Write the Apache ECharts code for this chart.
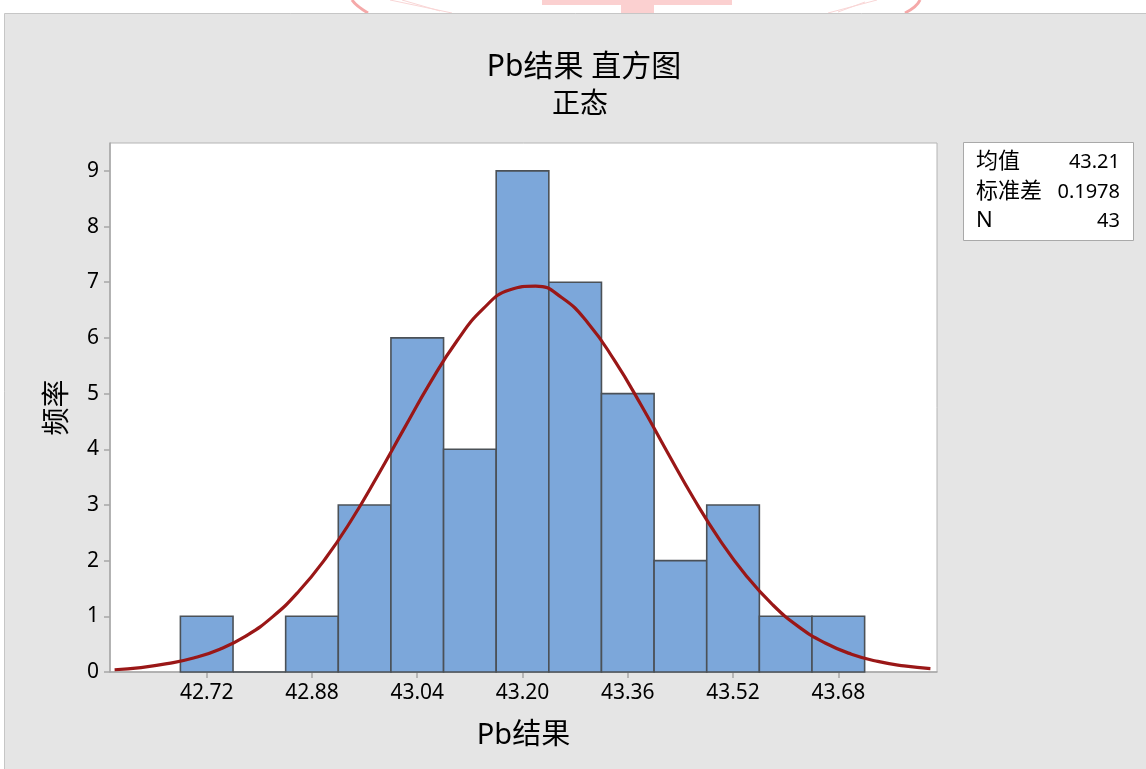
<!DOCTYPE html>
<html>
<head>
<meta charset="utf-8">
<script src="https://cdn.jsdelivr.net/npm/echarts@6/dist/echarts.min.js"></script>
<style>
html,body{margin:0;padding:0;background:#fff;}
#c{width:1146px;height:769px;}
</style>
</head>
<body>
<div id="c"></div>
<script>
// Histogram bins (edges) and counts
var binEdges = [42.68, 42.76, 42.84, 42.92, 43.00, 43.08, 43.16, 43.24, 43.32, 43.40, 43.48, 43.56, 43.64, 43.72];
var counts   = [1, 0, 1, 3, 6, 4, 9, 7, 5, 2, 3, 1, 1];
// Fitted normal curve points
var curveX = [42.58,42.62,42.66,42.70,42.74,42.78,42.82,42.86,42.90,42.94,42.98,43.02,43.06,43.10,43.14,43.18,43.22,43.26,43.30,43.34,43.38,43.42,43.46,43.50,43.54,43.58,43.62,43.66,43.70,43.74,43.78,43.82];
var curveY = [0.04,0.08,0.15,0.25,0.41,0.65,0.99,1.45,2.03,2.73,3.53,4.37,5.20,5.94,6.52,6.86,6.93,6.72,6.26,5.59,4.80,3.95,3.12,2.37,1.73,1.21,0.81,0.52,0.32,0.19,0.11,0.06];
var xTicks = [42.72, 42.88, 43.04, 43.20, 43.36, 43.52, 43.68];
var yTicks = [0,1,2,3,4,5,6,7,8,9];
var titleText = 'Pb结果 直方图';
var subtitleText = '正态';
var xName = 'Pb结果';
var yName = '频率';
var statLabels = ['均值', '标准差', 'N'];
var statValues = ['43.21', '0.1978', '43'];

var FONT = '"Segoe UI","Noto Sans","Noto Sans CJK SC",sans-serif';

var histData = [];
for (var i = 0; i < counts.length; i++) histData.push([binEdges[i], binEdges[i+1], counts[i]]);
var curveData = curveX.map(function(x, i){ return [x, curveY[i]]; });

var chart = echarts.init(document.getElementById('c'), null, {renderer:'canvas'});

var graphics = [
  // watermark fragments (faint pink, top edge)
  {type:'rect', shape:{x:542,y:0,width:190,height:5}, style:{fill:'#fbd0d0'}, z:-20},
  {type:'rect', shape:{x:621,y:5,width:33,height:9}, style:{fill:'#fbd0d0'}, z:-20},
  {type:'bezierCurve', shape:{x1:352,y1:0,x2:368,y2:13,cpx1:356,cpy1:6}, style:{stroke:'#f5a9a9',lineWidth:3,fill:null}, z:-20},
  {type:'bezierCurve', shape:{x1:920,y1:0,x2:905,y2:13,cpx1:917,cpy1:7}, style:{stroke:'#f5a9a9',lineWidth:3,fill:null}, z:-20},
  {type:'line', shape:{x1:390,y1:0,x2:452,y2:13}, style:{stroke:'#f9d6d6',lineWidth:1}, z:-20},
  {type:'line', shape:{x1:402,y1:0,x2:440,y2:11}, style:{stroke:'#f9d6d6',lineWidth:1}, z:-20},
  {type:'line', shape:{x1:877,y1:0,x2:828,y2:13}, style:{stroke:'#f9d6d6',lineWidth:1}, z:-20},
  {type:'line', shape:{x1:865,y1:2,x2:838,y2:12}, style:{stroke:'#f9d6d6',lineWidth:1}, z:-20},
  // grey panel
  {type:'rect', shape:{x:4.5,y:13.5,width:1150,height:770}, style:{fill:'#e5e5e5', stroke:'#c6c6c6', lineWidth:1}, z:-10},
  // titles
  {type:'text', x:584, y:67, style:{text:titleText, font:'30px '+FONT, fill:'#000', textAlign:'center', textVerticalAlign:'middle'}},
  {type:'text', x:580, y:105, style:{text:subtitleText, font:'28px '+FONT, fill:'#000', textAlign:'center', textVerticalAlign:'middle'}},
  // stats box
  {type:'rect', shape:{x:963.5,y:142.5,width:170,height:98}, style:{fill:'#fff', stroke:'#a9a9a9', lineWidth:1}}
];
var rowsY = [162, 192, 221];
for (var r = 0; r < statLabels.length; r++) {
  graphics.push({type:'text', x:976, y:rowsY[r], style:{text:statLabels[r], font:'22px '+FONT, fill:'#000', textAlign:'left', textVerticalAlign:'middle'}});
  graphics.push({type:'text', x:1120, y:rowsY[r], style:{text:statValues[r], font:'20px '+FONT, fill:'#000', textAlign:'right', textVerticalAlign:'middle'}});
}

chart.setOption({
  animation:false,
  backgroundColor:'#ffffff',
  graphic: graphics,
  grid:{left:110, top:143, right:209, bottom:97, show:true, backgroundColor:'#ffffff', borderColor:'#b4b4b4', borderWidth:1},
  xAxis:{
    type:'value', min:42.573, max:43.830,
    name:xName, nameLocation:'middle', nameGap:49,
    nameTextStyle:{fontSize:29, color:'#000', fontFamily:FONT},
    axisLine:{show:true, lineStyle:{color:'#a6a6a6', width:1.5}},
    axisTick:{show:true, length:6, customValues:xTicks, lineStyle:{color:'#a6a6a6', width:1.5}},
    axisLabel:{customValues:xTicks, fontSize:21, color:'#000', fontFamily:FONT, margin:11,
      formatter:function(v){return v.toFixed(2);}},
    splitLine:{show:false}
  },
  yAxis:{
    type:'value', min:0, max:9.5,
    name:yName, nameLocation:'middle', nameGap:38, nameRotate:90,
    nameTextStyle:{fontSize:28, color:'#000', fontFamily:FONT},
    axisLine:{show:true, lineStyle:{color:'#a6a6a6', width:1.5}},
    axisTick:{show:true, length:6, customValues:yTicks, lineStyle:{color:'#a6a6a6', width:1.5}},
    axisLabel:{customValues:yTicks, fontSize:21, color:'#000', fontFamily:FONT, margin:11},
    splitLine:{show:false}
  },
  series:[
    {
      type:'custom',
      data:histData,
      encode:{x:[0,1], y:2},
      z:2,
      renderItem:function(params, api){
        var p0 = api.coord([api.value(0), api.value(2)]);
        var p1 = api.coord([api.value(1), 0]);
        return {
          type:'rect',
          shape:{x:p0[0], y:p0[1], width:p1[0]-p0[0], height:p1[1]-p0[1]},
          style:{fill:'#7ca7da', stroke:'#4b5157', lineWidth:1.6}
        };
      }
    },
    {
      type:'line',
      data:curveData,
      smooth:0.5,
      symbol:'none',
      z:3,
      lineStyle:{color:'#9a1717', width:3.2}
    }
  ]
});
</script>
</body>
</html>
